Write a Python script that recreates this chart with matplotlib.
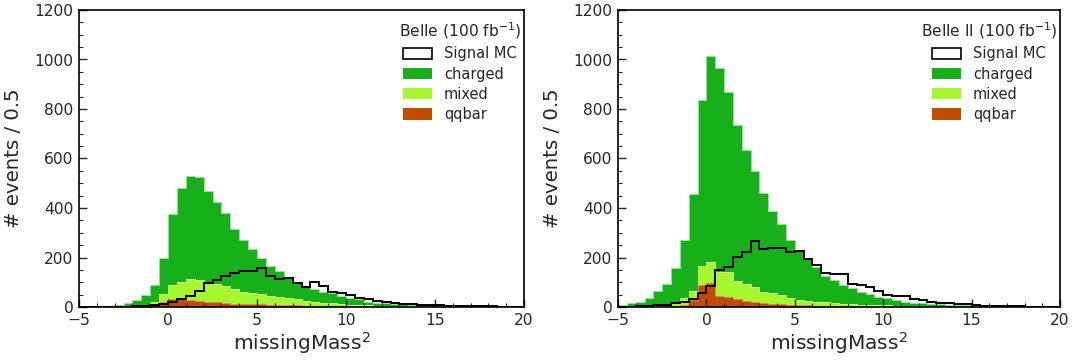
import numpy as np
import matplotlib
matplotlib.use("Agg")
import matplotlib.pyplot as plt
from matplotlib.patches import Patch
from matplotlib.ticker import MultipleLocator

# missingMass^2 binning: 50 bins of width 0.5 from -5 to 20
bin_edges = np.arange(-5.0, 20.0001, 0.5)

# ---- Belle (100 fb^-1) ----
belle_charged = [1, 1, 1, 4, 6, 14, 23, 40, 67, 148, 285, 380, 417, 418, 372, 329,
                 298, 242, 209, 176, 149, 121, 105, 87, 68, 54, 50, 44, 40, 34,
                 26, 23, 15, 12, 10, 8, 8, 6, 6, 5, 4, 4, 4, 3, 2, 2, 2, 2, 1, 1]
belle_mixed = [0, 0, 1, 1, 1, 2, 3, 5, 9, 31, 56, 69, 83, 84, 76, 75,
               66, 58, 49, 46, 40, 36, 33, 28, 24, 20, 16, 13, 11, 8,
               7, 5, 5, 4, 3, 3, 2, 2, 1, 1, 2, 1, 1, 1, 1, 1, 0, 0, 0, 0]
belle_qqbar = [0, 0, 0, 0, 1, 1, 2, 5, 12, 20, 33, 33, 29, 25, 22, 19,
               17, 14, 13, 12, 11, 10, 9, 8, 7, 6, 5, 5, 4, 4,
               3, 3, 2, 2, 2, 1, 1, 1, 1, 1, 0, 0, 0, 0, 0, 0, 0, 0, 0, 0]
belle_signal = [0, 0, 1, 1, 2, 2, 3, 5, 8, 12, 22, 32, 46, 66, 98, 109,
                125, 136, 147, 146, 159, 127, 112, 118, 98, 80, 100, 85, 61, 58,
                50, 38, 31, 26, 20, 17, 14, 12, 10, 8, 7, 5, 4, 4, 3, 3, 4, 2, 2, 1]

# ---- Belle II (100 fb^-1) ----
belle2_charged = [6, 14, 20, 33, 58, 84, 138, 235, 393, 668, 833, 826, 727, 628, 541, 469,
                  397, 333, 289, 233, 197, 169, 138, 106, 93, 75, 63, 49, 42, 34,
                  28, 22, 17, 13, 11, 10, 9, 8, 7, 5, 5, 5, 3, 2, 3, 2, 2, 1, 1, 1]
belle2_mixed = [1, 1, 2, 2, 4, 9, 17, 28, 37, 77, 86, 96, 100, 74, 68, 63,
                47, 42, 37, 29, 22, 19, 16, 14, 11, 10, 9, 7, 7, 6,
                5, 5, 4, 3, 3, 3, 3, 2, 2, 2, 1, 1, 1, 1, 0, 0, 0, 0, 0, 0]
belle2_qqbar = [0, 0, 0, 1, 1, 1, 3, 8, 28, 90, 95, 44, 40, 33, 25, 19,
                15, 13, 11, 9, 8, 7, 6, 5, 5, 4, 3, 3, 2, 2,
                2, 1, 1, 1, 1, 0, 0, 0, 0, 0, 0, 0, 0, 0, 0, 0, 0, 0, 0, 0]
belle2_signal = [1, 1, 3, 3, 8, 8, 18, 20, 31, 58, 84, 150, 163, 204, 221, 265,
                 233, 237, 237, 221, 228, 194, 170, 139, 133, 133, 92, 89, 82, 66,
                 48, 44, 44, 33, 28, 22, 18, 18, 12, 11, 8, 4, 3, 3, 5, 5, 2, 1, 1, 1]

panel_titles = ["Belle (100 fb$^{-1}$)", "Belle II (100 fb$^{-1}$)"]
component_names = ["charged", "mixed", "qqbar"]

COL_CHARGED = "#17b01b"
COL_MIXED = "#a6f72f"
COL_QQBAR = "#c04c00"
TEXT_COL = "#262626"

plt.rcParams["font.family"] = ["DejaVu Sans"]
plt.rcParams["text.color"] = TEXT_COL
plt.rcParams["axes.labelcolor"] = TEXT_COL
plt.rcParams["xtick.color"] = TEXT_COL
plt.rcParams["ytick.color"] = TEXT_COL

fig = plt.figure(figsize=(10.75, 3.6), dpi=100)
ax_l = fig.add_axes([79 / 1075, 53 / 360, 445 / 1075, 297 / 360])
ax_r = fig.add_axes([618 / 1075, 53 / 360, 442 / 1075, 297 / 360])

centers = 0.5 * (bin_edges[:-1] + bin_edges[1:])

panels = [
    (ax_l, belle_qqbar, belle_mixed, belle_charged, belle_signal, panel_titles[0]),
    (ax_r, belle2_qqbar, belle2_mixed, belle2_charged, belle2_signal, panel_titles[1]),
]

for ax, qq, mx, ch, sig, title in panels:
    ax.hist([centers, centers, centers], bins=bin_edges,
            weights=[qq, mx, ch], stacked=True, histtype="stepfilled",
            color=[COL_QQBAR, COL_MIXED, COL_CHARGED],
            edgecolor=["#d88a55", "#ccfb88", "#9fe0a0"], linewidth=0.6)
    ax.hist(centers, bins=bin_edges, weights=sig, histtype="step",
            color="black", linewidth=1.4)

    ax.set_xlim(-5, 20)
    ax.set_ylim(0, 1200)
    ax.xaxis.set_major_locator(MultipleLocator(5))
    ax.xaxis.set_minor_locator(MultipleLocator(1))
    ax.yaxis.set_major_locator(MultipleLocator(200))
    ax.yaxis.set_minor_locator(MultipleLocator(50))
    ax.tick_params(which="both", direction="in", top=False, right=False,
                   labelsize=11.2, pad=4)
    ax.tick_params(which="major", length=6, width=1)
    ax.tick_params(which="minor", length=3, width=0.8)
    for sp in ax.spines.values():
        sp.set_linewidth(1.2)
        sp.set_color("black")

    ax.set_xlabel("missingMass$^2$", fontsize=14.5, labelpad=2)
    ax.set_ylabel("# events / 0.5", fontsize=14.2, labelpad=8)

    handles = [
        Patch(facecolor="white", edgecolor="black", linewidth=1.2, label="Signal MC"),
        Patch(facecolor=COL_CHARGED, label=component_names[0]),
        Patch(facecolor=COL_MIXED, label=component_names[1]),
        Patch(facecolor=COL_QQBAR, label=component_names[2]),
    ]
    leg = ax.legend(handles=handles, title=title, loc="upper right",
                    bbox_to_anchor=(1.0, 0.975),
                    frameon=False, fontsize=10.5, title_fontsize=11.2,
                    handlelength=2.0, handleheight=0.8, labelspacing=0.36,
                    borderaxespad=0.0, borderpad=0.2)
    leg.get_title().set_color(TEXT_COL)

fig.savefig("out.png", dpi=100)
